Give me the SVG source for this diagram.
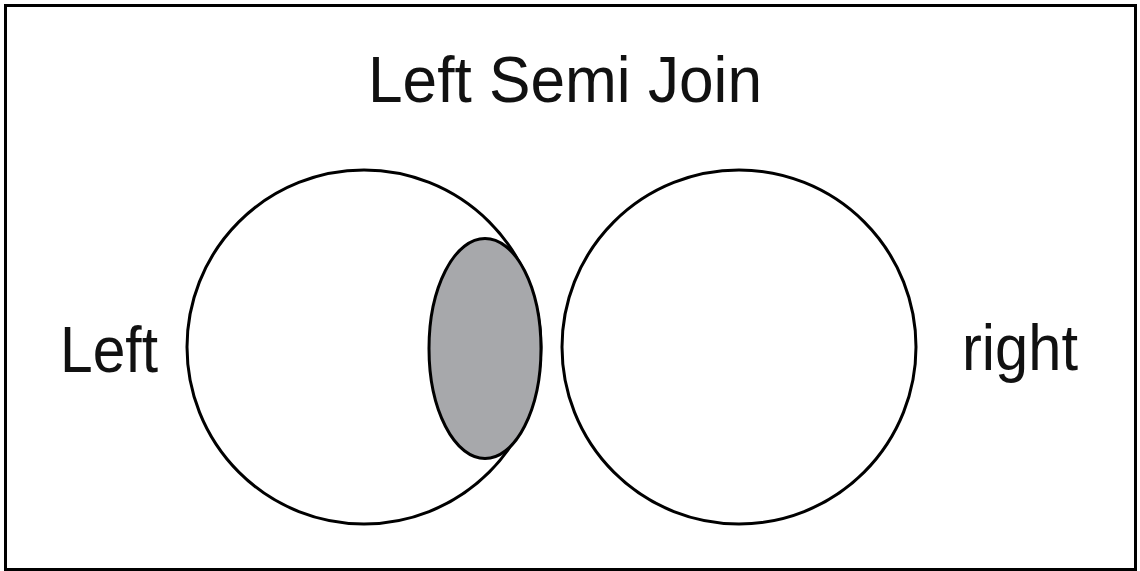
<svg xmlns="http://www.w3.org/2000/svg" width="1140" height="571" viewBox="0 0 1140 571">
<style>
.lbl{font-family:"Liberation Sans",Arial,sans-serif;font-size:64px;fill:#111}
.set{fill:#fff;stroke:#000;stroke-width:3}
</style>
<rect x="0" y="0" width="1140" height="571" fill="#fff"/>
<rect x="5.5" y="5.5" width="1130" height="564" fill="none" stroke="#000" stroke-width="3"/>
<text class="lbl" x="368" y="102" textLength="394" lengthAdjust="spacingAndGlyphs">Left Semi Join</text>
<g id="left-set">
<circle class="set" cx="364" cy="347" r="177"/>
</g>
<g id="right-set">
<circle class="set" cx="739" cy="347" r="177"/>
</g>
<g id="semi-join">
<ellipse cx="485" cy="348.5" rx="56" ry="110" fill="#a7a8ab" stroke="#000" stroke-width="3"/>
</g>
<g id="labels">
<text class="lbl" x="60" y="372" textLength="98" lengthAdjust="spacingAndGlyphs">Left</text>
<text class="lbl" x="962" y="370" textLength="116" lengthAdjust="spacingAndGlyphs">right</text>
</g>
<g id="connectors"></g>
</svg>
